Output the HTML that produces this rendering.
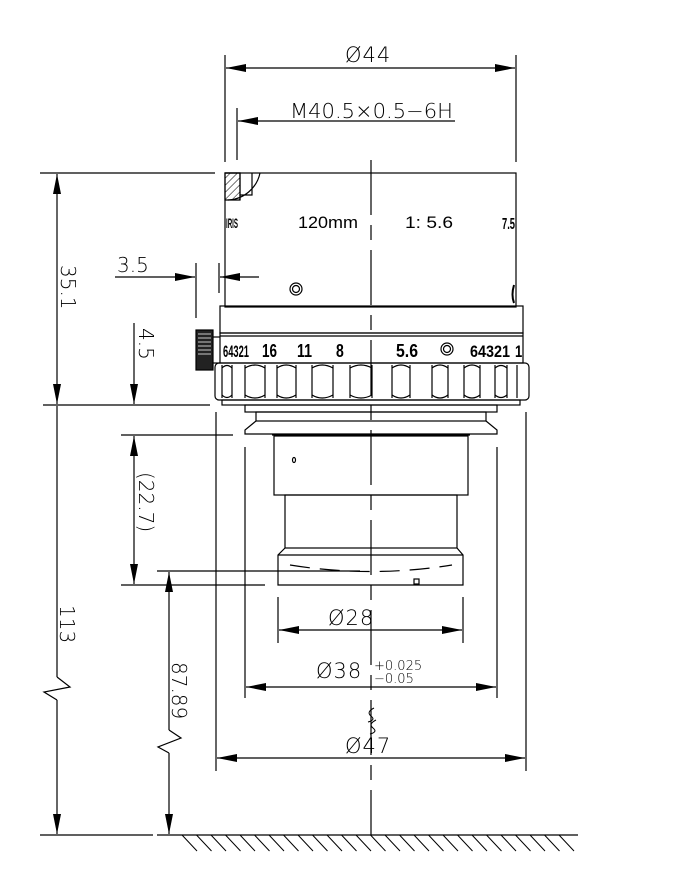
<!DOCTYPE html>
<html><head><meta charset="utf-8"><style>
html,body{margin:0;padding:0;background:#fff;}
svg{display:block;}
.d{font-family:"DejaVu Sans","Liberation Sans",sans-serif;font-weight:200;fill:#000;}
.b{font-family:"Liberation Sans",sans-serif;font-weight:bold;fill:#000;}
</style></head><body>
<svg width="693" height="881" viewBox="0 0 693 881" xmlns="http://www.w3.org/2000/svg">
<defs>
<marker id="a" viewBox="0 0 20 8" refX="20" refY="4" markerWidth="20" markerHeight="8" markerUnits="userSpaceOnUse" orient="auto-start-reverse"><path d="M0,0 L20,4 L0,8 Z" fill="#000"/></marker>
<pattern id="h" width="5" height="5" patternUnits="userSpaceOnUse" patternTransform="rotate(45)"><line x1="0" y1="0" x2="0" y2="5" stroke="#000" stroke-width="1"/></pattern>
</defs>
<g stroke="#000" stroke-width="1.2" fill="none">
<line x1="371" y1="160" x2="371" y2="835" stroke-dasharray="55 10 15 10"/>
<line x1="225" y1="55" x2="225" y2="162"/>
<line x1="516" y1="55" x2="516" y2="162"/>
<line x1="226" y1="68" x2="515" y2="68" marker-start="url(#a)" marker-end="url(#a)"/>
<line x1="237" y1="108" x2="237" y2="160"/>
<line x1="238" y1="121" x2="455" y2="121" marker-start="url(#a)"/>
<rect x="225" y="173" width="291" height="134"/>
<path d="M225,173 L240,173 L240,200 M240,195 L252,195 L252,173 M260,173 A34,34 0 0 1 228,200"/>
<path d="M225,173 L240,173 L240,200 L225,200 Z" fill="url(#h)"/>
<circle cx="296" cy="289" r="6"/><circle cx="296" cy="289" r="3.5"/>
<path d="M514,285 Q511,295 514,303" stroke-width="2"/>
<rect x="220" y="306" width="303" height="27"/>
<rect x="220" y="333" width="303" height="30"/>
<line x1="220" y1="336" x2="523" y2="336"/>
<rect x="196" y="330" width="17" height="40" fill="#222"/>
<path d="M198,334 H211 M198,338 H211 M198,342 H211 M198,346 H211 M198,350 H211 M198,354 H211" stroke="#fff" stroke-width="0.8"/>
<line x1="213" y1="337" x2="220" y2="337"/><line x1="213" y1="363" x2="220" y2="363"/>
<circle cx="447" cy="349" r="6"/><circle cx="447" cy="349" r="3.5"/>
<rect x="215" y="363" width="314" height="37" rx="4"/>
<path d="M222,365 V398 M232,365 V398 M245,365 V398 M265,365 V398 M277,365 V398 M296,365 V398 M312,365 V398 M333,365 V398 M350,365 V398 M372,365 V398 M392,365 V398 M410,365 V398 M432,365 V398 M448,365 V398 M464,365 V398 M480,365 V398 M495,365 V398 M507,365 V398 M517,365 V398"/>
<path d="M222,368 Q227,363 232,368 M245,368 Q255,362 265,368 M277,368 Q286,362 296,368 M312,368 Q322,362 333,368 M350,368 Q361,362 372,368 M392,368 Q401,362 410,368 M432,368 Q440,362 448,368 M464,368 Q472,362 480,368 M495,368 Q501,363 507,368 M222,395 Q227,400 232,395 M245,395 Q255,401 265,395 M277,395 Q286,401 296,395 M312,395 Q322,401 333,395 M350,395 Q361,401 372,395 M392,395 Q401,401 410,395 M432,395 Q440,401 448,395 M464,395 Q472,401 480,395 M495,395 Q501,400 507,395"/>
<rect x="222" y="400" width="298" height="5"/>
<rect x="245" y="405" width="252" height="7"/>
<rect x="256" y="412" width="230" height="9"/>
<path d="M256,421 L245,430 L245,434 L497,434 L497,430 L486,421"/>
<rect x="274" y="436" width="194" height="59"/>
<line x1="272" y1="435" x2="470" y2="435"/>
<rect x="285" y="495" width="172" height="53"/>
<path d="M285,548 L278,555 L278,585 L463,585 L463,555 L457,548"/>
<line x1="278" y1="555" x2="463" y2="555"/>
<path d="M290,565 Q371,578 452,565" stroke-dasharray="20 10"/>
<rect x="414" y="579" width="5" height="5"/>
<ellipse cx="294" cy="460" rx="1.5" ry="2.5"/>
<line x1="40" y1="173" x2="215" y2="173"/>
<line x1="43" y1="405" x2="210" y2="405"/>
<line x1="57" y1="174" x2="57" y2="404" marker-start="url(#a)" marker-end="url(#a)"/>
<line x1="57" y1="406" x2="57" y2="677"/>
<path d="M57,677 L70,687 L44,692 L57,700"/>
<line x1="57" y1="700" x2="57" y2="834" marker-end="url(#a)"/>
<line x1="115" y1="277" x2="195" y2="277" marker-end="url(#a)"/>
<line x1="259" y1="277" x2="220" y2="277" marker-end="url(#a)"/>
<line x1="196" y1="263" x2="196" y2="318"/>
<line x1="219" y1="263" x2="219" y2="293"/>
<line x1="134" y1="323" x2="134" y2="404" marker-end="url(#a)"/>
<line x1="121" y1="435" x2="233" y2="435"/>
<line x1="121" y1="585" x2="265" y2="585"/>
<line x1="134" y1="436" x2="134" y2="584" marker-start="url(#a)" marker-end="url(#a)"/>
<line x1="157" y1="571" x2="360" y2="571"/>
<line x1="169" y1="572" x2="169" y2="730" marker-start="url(#a)"/>
<path d="M169,730 L181,738 L158,747 L169,753"/>
<line x1="169" y1="753" x2="169" y2="834" marker-end="url(#a)"/>
<line x1="216" y1="412" x2="216" y2="771"/>
<line x1="526" y1="412" x2="526" y2="771"/>
<line x1="245" y1="447" x2="245" y2="698"/>
<line x1="497" y1="447" x2="497" y2="698"/>
<line x1="278" y1="597" x2="278" y2="643"/>
<line x1="463" y1="597" x2="463" y2="643"/>
<line x1="279" y1="630" x2="462" y2="630" marker-start="url(#a)" marker-end="url(#a)"/>
<line x1="246" y1="687" x2="496" y2="687" marker-start="url(#a)" marker-end="url(#a)"/>
<line x1="217" y1="758" x2="525" y2="758" marker-start="url(#a)" marker-end="url(#a)"/>
<path d="M374,708 Q366,712 371,716 Q376,720 368,722 M376,720 Q368,724 373,728 Q378,732 370,734" stroke-width="1"/>
<line x1="40" y1="835" x2="153" y2="835"/>
<line x1="157" y1="835" x2="578" y2="835"/>
<path d="M182,835 l15,16 M196.5,835 l15,16 M211,835 l15,16 M225.5,835 l15,16 M240,835 l15,16 M254.5,835 l15,16 M269,835 l15,16 M283.5,835 l15,16 M298,835 l15,16 M312.5,835 l15,16 M327,835 l15,16 M341.5,835 l15,16 M356,835 l15,16 M370.5,835 l15,16 M385,835 l15,16 M399.5,835 l15,16 M414,835 l15,16 M428.5,835 l15,16 M443,835 l15,16 M457.5,835 l15,16 M472,835 l15,16 M486.5,835 l15,16 M501,835 l15,16 M515.5,835 l15,16 M530,835 l15,16 M544.5,835 l15,16 M559,835 l15,16" stroke-width="1"/>
</g>
<text class="d" x="345" y="62" font-size="21" letter-spacing="1">Ø44</text>
<text class="d" x="290" y="118" font-size="20" textLength="163" lengthAdjust="spacingAndGlyphs">M40.5×0.5−6H</text>
<text class="d" x="117" y="272" font-size="20">3.5</text>
<text class="d" x="328" y="625" font-size="21" letter-spacing="1">Ø28</text>
<text class="d" x="316" y="678" font-size="21" letter-spacing="1">Ø38</text>
<text class="d" x="374" y="670" font-size="13">+0.025</text>
<text class="d" x="374" y="683" font-size="13">−0.05</text>
<text class="d" x="345" y="753" font-size="21" letter-spacing="1">Ø47</text>
<text class="d" transform="translate(61,265) rotate(90)" font-size="20">35.1</text>
<text class="d" transform="translate(139,328) rotate(90)" font-size="20">4.5</text>
<text class="d" transform="translate(139,472) rotate(90)" font-size="20">(22.7)</text>
<text class="d" transform="translate(60,605) rotate(90)" font-size="20">113</text>
<text class="d" transform="translate(172,662) rotate(90)" font-size="20">87.89</text>
<text class="b" x="226" y="228" font-size="14" textLength="12" lengthAdjust="spacingAndGlyphs">IRIS</text>
<text x="298" y="228" font-family="Liberation Sans,sans-serif" font-size="17" textLength="60" lengthAdjust="spacingAndGlyphs">120mm</text>
<text x="405" y="228" font-family="Liberation Sans,sans-serif" font-size="17" textLength="48" lengthAdjust="spacingAndGlyphs">1:  5.6</text>
<text class="b" x="502" y="229" font-size="16" textLength="13" lengthAdjust="spacingAndGlyphs">7.5</text>
<g transform="translate(0,357) scale(1,1.3)">
<text class="b" x="223" y="0" font-size="13" textLength="26" lengthAdjust="spacingAndGlyphs">64321</text>
<text class="b" x="262" y="0" font-size="14" textLength="15" lengthAdjust="spacingAndGlyphs">16</text>
<text class="b" x="297" y="0" font-size="14" textLength="15" lengthAdjust="spacingAndGlyphs">11</text>
<text class="b" x="336" y="0" font-size="14">8</text>
<text class="b" x="396" y="0" font-size="14" textLength="22" lengthAdjust="spacingAndGlyphs">5.6</text>
<text class="b" x="470" y="0" font-size="13" textLength="40" lengthAdjust="spacingAndGlyphs">64321</text>
<text class="b" x="515" y="0" font-size="13">1</text>
</g>
</svg>
</body></html>
